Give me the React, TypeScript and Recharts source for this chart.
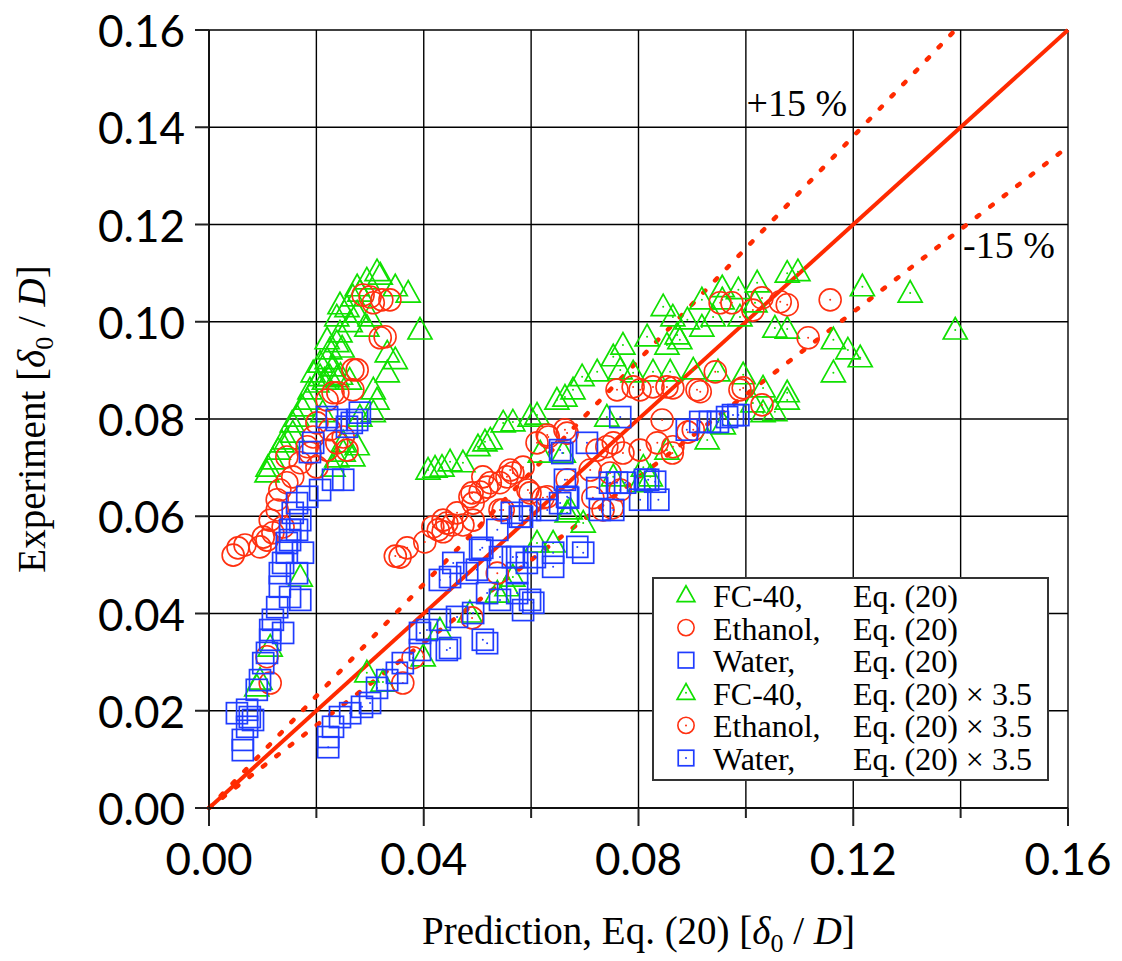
import React from "react";
import {
  ScatterChart,
  Scatter,
  XAxis,
  YAxis,
  CartesianGrid,
  ReferenceLine,
  ReferenceDot,
  Legend,
} from "recharts";

type Pt = [number, number];

// axis ticks (both axes run 0 .. 0.16)
const axisTicks = [0, 0.02, 0.04, 0.06, 0.08, 0.1, 0.12, 0.14, 0.16];

// Eq. (20) — left, steep cluster
const fc40Eq20: Pt[] = [
  [0.0313, 0.1103], [0.0319, 0.1096], [0.0294, 0.1086], [0.0276, 0.1072], [0.0281, 0.1061],
  [0.0268, 0.1051], [0.0244, 0.1035], [0.0257, 0.1029], [0.0347, 0.1072], [0.0371, 0.1059],
  [0.0276, 0.1018], [0.03, 0.101], [0.0238, 0.101], [0.0263, 0.0998], [0.0294, 0.0989],
  [0.0393, 0.0983], [0.0244, 0.0977], [0.022, 0.0963], [0.0238, 0.0957], [0.0248, 0.0946],
  [0.0225, 0.0942], [0.0332, 0.0936], [0.0347, 0.0922], [0.0332, 0.0895], [0.022, 0.0922],
  [0.0207, 0.0915], [0.0231, 0.0907], [0.0194, 0.0895], [0.0207, 0.0887], [0.0225, 0.0887],
  [0.0238, 0.0885], [0.0201, 0.0874], [0.0188, 0.086], [0.0306, 0.086], [0.0313, 0.0839],
  [0.0183, 0.0839], [0.0173, 0.0825], [0.0164, 0.0804], [0.0155, 0.0792], [0.0156, 0.0771],
  [0.0145, 0.0757], [0.0136, 0.0751], [0.0129, 0.0736], [0.0119, 0.0716], [0.011, 0.0701],
  [0.0108, 0.0689], [0.0238, 0.072], [0.025, 0.0732], [0.0306, 0.0813], [0.0212, 0.0813],
  [0.0281, 0.0804], [0.0215, 0.088], [0.0245, 0.089], [0.0262, 0.088], [0.0231, 0.0701],
  [0.025, 0.0751], [0.0276, 0.0745], [0.0268, 0.0722], [0.017, 0.0475], [0.0114, 0.0331],
  [0.0095, 0.0263], [0.0089, 0.0249],
];
const ethanolEq20: Pt[] = [
  [0.0287, 0.1055], [0.0306, 0.1039], [0.0337, 0.1045], [0.03, 0.1051], [0.0322, 0.1045],
  [0.0319, 0.0967], [0.0328, 0.0969], [0.0268, 0.0901], [0.0276, 0.0901], [0.0268, 0.086],
  [0.024, 0.0854], [0.0231, 0.0854], [0.022, 0.0839], [0.0201, 0.0792], [0.0225, 0.0778],
  [0.025, 0.0763], [0.0257, 0.0736], [0.0194, 0.0763], [0.0183, 0.0743], [0.0188, 0.073],
  [0.017, 0.071], [0.0156, 0.0681], [0.0145, 0.0669], [0.0132, 0.0654], [0.0127, 0.0634],
  [0.0238, 0.0751], [0.022, 0.0736], [0.0201, 0.0701], [0.0145, 0.0722], [0.0127, 0.0613],
  [0.0114, 0.0592], [0.0101, 0.0557], [0.0095, 0.0537], [0.0108, 0.0551], [0.0119, 0.0566],
  [0.0138, 0.0578], [0.0045, 0.052], [0.0054, 0.0535], [0.0067, 0.0541], [0.0114, 0.0257],
  [0.0108, 0.0311],
];
const waterEq20: Pt[] = [
  [0.022, 0.0804], [0.0238, 0.0798], [0.0266, 0.0792], [0.0281, 0.0813], [0.0276, 0.0798],
  [0.0257, 0.0784], [0.0194, 0.0751], [0.0188, 0.0732], [0.0231, 0.0675], [0.025, 0.0675],
  [0.0207, 0.0654], [0.0183, 0.064], [0.0164, 0.0627], [0.0156, 0.0607], [0.017, 0.0592],
  [0.0151, 0.0572], [0.0145, 0.0545], [0.0164, 0.0572], [0.0151, 0.0551], [0.0145, 0.0525],
  [0.0175, 0.0525], [0.0138, 0.0504], [0.0132, 0.0483], [0.0164, 0.0483], [0.0132, 0.0455],
  [0.0151, 0.0434], [0.017, 0.0428], [0.0127, 0.0413], [0.0119, 0.0387], [0.0114, 0.0366],
  [0.0138, 0.036], [0.0114, 0.0346], [0.0108, 0.0319], [0.0101, 0.0298], [0.0095, 0.0263],
  [0.0089, 0.0243], [0.0071, 0.0202], [0.0076, 0.0187], [0.0071, 0.0167], [0.0063, 0.014],
  [0.0063, 0.0119], [0.0082, 0.0181], [0.0052, 0.0195],
];

// Eq. (20) x 3.5 — right cluster
const fc40Scaled: Pt[] = [
  [0.0408, 0.0695], [0.0421, 0.0699], [0.0434, 0.0701], [0.0449, 0.0712], [0.0473, 0.071],
  [0.0501, 0.0743], [0.0514, 0.0753], [0.0524, 0.0757], [0.0548, 0.0792], [0.0566, 0.0794],
  [0.0598, 0.0804], [0.0611, 0.0808], [0.0648, 0.0839], [0.0663, 0.0845], [0.0678, 0.086],
  [0.0695, 0.0887], [0.0723, 0.0897], [0.0753, 0.0928], [0.0771, 0.0952], [0.0766, 0.0901],
  [0.079, 0.0895], [0.0816, 0.0969], [0.0846, 0.1031], [0.0864, 0.101], [0.0872, 0.0973],
  [0.0853, 0.0952], [0.0827, 0.0897], [0.0859, 0.0897], [0.0902, 0.0901], [0.0741, 0.0804],
  [0.0617, 0.073], [0.066, 0.073], [0.0853, 0.0736], [0.0809, 0.0701], [0.0673, 0.0613],
  [0.0697, 0.0586], [0.1077, 0.11], [0.1097, 0.1103], [0.1021, 0.108], [0.0986, 0.1066],
  [0.0956, 0.107], [0.0918, 0.1045], [0.0956, 0.1045], [0.1017, 0.1039], [0.0989, 0.101],
  [0.0939, 0.101], [0.0891, 0.1004], [0.0918, 0.0989], [0.1217, 0.1072], [0.1306, 0.1059],
  [0.139, 0.0983], [0.1054, 0.0987], [0.1077, 0.0985], [0.1163, 0.0963], [0.119, 0.0942],
  [0.1213, 0.0926], [0.1163, 0.0895], [0.0948, 0.0897], [0.0995, 0.0891], [0.1032, 0.0864],
  [0.1077, 0.0854], [0.1077, 0.0839], [0.1054, 0.0815], [0.1013, 0.0833], [0.1032, 0.0813],
  [0.0958, 0.0788], [0.0928, 0.0757], [0.0877, 0.0963], [0.0294, 0.0278], [0.0324, 0.0259],
  [0.0399, 0.0311], [0.0537, 0.0442], [0.0555, 0.0455], [0.0566, 0.0475], [0.0611, 0.0545],
  [0.0641, 0.0545], [0.0486, 0.0401], [0.043, 0.0366], [0.0667, 0.0607], [0.0753, 0.0681],
  [0.0803, 0.0669], [0.0822, 0.0681],
];
const ethanolScaled: Pt[] = [
  [0.0347, 0.0518], [0.0356, 0.0516], [0.0369, 0.0535], [0.0402, 0.0547], [0.0427, 0.0572],
  [0.0436, 0.0568], [0.0453, 0.0582], [0.0473, 0.0582], [0.0492, 0.0592], [0.0486, 0.064],
  [0.0505, 0.065], [0.0518, 0.066], [0.0542, 0.0669], [0.0555, 0.0681], [0.0566, 0.0689],
  [0.0594, 0.0654], [0.0622, 0.0638], [0.0537, 0.0483], [0.0361, 0.0257], [0.038, 0.0309],
  [0.049, 0.0391], [0.0417, 0.0578], [0.0436, 0.0592], [0.0462, 0.0607], [0.049, 0.0648],
  [0.0524, 0.0669], [0.0561, 0.0695], [0.0585, 0.0701], [0.0611, 0.0751], [0.063, 0.0767],
  [0.0667, 0.0771], [0.0723, 0.0736], [0.0753, 0.0751], [0.0771, 0.073], [0.076, 0.086],
  [0.079, 0.0866], [0.0827, 0.0866], [0.0853, 0.0866], [0.0909, 0.086], [0.0835, 0.0751],
  [0.0864, 0.0743], [0.0902, 0.0778], [0.0734, 0.0613], [0.0667, 0.0675], [0.0598, 0.0648],
  [0.0542, 0.0613], [0.0492, 0.0627], [0.051, 0.0681], [0.1157, 0.1045], [0.1077, 0.1035],
  [0.1064, 0.1041], [0.103, 0.1049], [0.1013, 0.1024], [0.0974, 0.1039], [0.0952, 0.1039],
  [0.1116, 0.0967], [0.0943, 0.0897], [0.0915, 0.0856], [0.0989, 0.086], [0.103, 0.0829],
  [0.0892, 0.0773], [0.0995, 0.0864], [0.0864, 0.0864], [0.0803, 0.086], [0.0844, 0.0798],
  [0.0863, 0.073], [0.0803, 0.0736], [0.0741, 0.0743], [0.071, 0.0695], [0.0747, 0.0689],
  [0.0766, 0.0654], [0.0751, 0.0617], [0.0715, 0.0638], [0.0663, 0.0778], [0.0632, 0.0763],
  [0.063, 0.064], [0.0443, 0.0586], [0.0548, 0.0613],
];
const waterScaled: Pt[] = [
  [0.0222, 0.0125], [0.0222, 0.0146], [0.0231, 0.0167], [0.0244, 0.0187], [0.0263, 0.0195],
  [0.0285, 0.0208], [0.03, 0.0216], [0.0313, 0.0247], [0.0332, 0.0263], [0.035, 0.0278],
  [0.0361, 0.0298], [0.0393, 0.036], [0.0406, 0.0366], [0.043, 0.0387], [0.0462, 0.0393],
  [0.0492, 0.0401], [0.051, 0.0346], [0.0518, 0.0339], [0.0443, 0.0325], [0.0393, 0.0325],
  [0.043, 0.0469], [0.0455, 0.0504], [0.0449, 0.0475], [0.0481, 0.0483], [0.0499, 0.049],
  [0.0518, 0.0442], [0.0542, 0.0516], [0.0566, 0.0516], [0.0592, 0.0504], [0.0604, 0.0422],
  [0.0574, 0.0442], [0.0542, 0.0428], [0.0505, 0.0531], [0.0537, 0.0572], [0.0579, 0.0599],
  [0.0598, 0.0613], [0.063, 0.0613], [0.0654, 0.0627], [0.0654, 0.0736], [0.0704, 0.0751],
  [0.0663, 0.0675], [0.0667, 0.064], [0.0723, 0.0658], [0.0747, 0.0669], [0.076, 0.0669],
  [0.0775, 0.0669], [0.0818, 0.0675], [0.0837, 0.0634], [0.0803, 0.0634], [0.0728, 0.0613],
  [0.0753, 0.0613], [0.0564, 0.0607], [0.0583, 0.0599], [0.0509, 0.0535], [0.0574, 0.0516],
  [0.0607, 0.0516], [0.0641, 0.0525], [0.0686, 0.0537], [0.0697, 0.0525], [0.0641, 0.0496],
  [0.0574, 0.0483], [0.0598, 0.0428], [0.0585, 0.0407], [0.0449, 0.0329], [0.0766, 0.0804],
  [0.089, 0.0778], [0.0915, 0.0794], [0.0933, 0.0794], [0.0948, 0.0794], [0.0965, 0.0804],
  [0.0976, 0.0808], [0.0986, 0.0808], [0.0658, 0.073], [0.0669, 0.0638], [0.0812, 0.0675],
  [0.0831, 0.0671],
];

// parity line and +/-15 % bands (end points)
const parityLine: Pt[] = [[0, 0], [0.16, 0.16]];
const plus15Line: Pt[] = [[0, 0], [0.139, 0.16]];
const minus15Line: Pt[] = [[0, 0], [0.16, 0.136]];

const legendLabels = [
  ["FC-40,", "Eq. (20)"],
  ["Ethanol,", "Eq. (20)"],
  ["Water,", "Eq. (20)"],
  ["FC-40,", "Eq. (20) × 3.5"],
  ["Ethanol,", "Eq. (20) × 3.5"],
  ["Water,", "Eq. (20) × 3.5"],
];

const GREEN = "#10e000";
const RED = "#ff3010";
const BLUE = "#1f3cff";
const LINE_RED = "#ff2a00";
const SERIF = "'Liberation Serif', 'Times New Roman', serif";
const SANS = "Lato, 'DejaVu Sans', sans-serif";

const toPoints = (arr: Pt[]) => arr.map(([x, y]) => ({ x, y }));
const seg = (arr: Pt[]) => arr.map(([x, y]) => ({ x, y }));

function Marker({ kind, color, dot, cx, cy, s = 1 }: any) {
  let body;
  if (kind === "tri") {
    body = (
      <polygon
        points={`${cx},${cy - 12.5 * s} ${cx - 12 * s},${cy + 9 * s} ${cx + 12 * s},${cy + 9 * s}`}
        fill="none"
        stroke={color}
        strokeWidth={1.7}
      />
    );
  } else if (kind === "circ") {
    body = <circle cx={cx} cy={cy} r={11 * s} fill="none" stroke={color} strokeWidth={1.6} />;
  } else {
    body = (
      <rect x={cx - 10.5 * s} y={cy - 10.5 * s} width={21 * s} height={21 * s} fill="none" stroke={color} strokeWidth={1.7} />
    );
  }
  return (
    <g>
      {body}
      {dot && <circle cx={cx} cy={cy} r={1} fill={color} />}
    </g>
  );
}

const shape = (kind: string, color: string, dot: boolean) => (props: any) =>
  <Marker kind={kind} color={color} dot={dot} cx={props.cx} cy={props.cy} />;

const XTick = ({ x, y, payload }: any) => {
  const v = payload.value;
  const major = Math.round(v * 100) % 4 === 0;
  return (
    <g>
      <line x1={x} x2={x} y1={y} y2={y + (major ? 18 : 10)} stroke="#222" strokeWidth={2} />
      {major && (
        <text x={x} y={y + 50} textAnchor="middle" dominantBaseline="central" fontFamily={SANS} fontSize={44} fill="#000">
          {v.toFixed(2)}
        </text>
      )}
    </g>
  );
};

const YTick = ({ x, y, payload }: any) => (
  <g>
    <line x1={x - 14} x2={x} y1={y} y2={y} stroke="#222" strokeWidth={2} />
    <text x={x - 24} y={y} textAnchor="end" dominantBaseline="central" fontFamily={SANS} fontSize={44} fill="#000">
      {payload.value.toFixed(2)}
    </text>
  </g>
);

const legendKinds = [
  ["tri", GREEN, false],
  ["circ", RED, false],
  ["rect", BLUE, false],
  ["tri", GREEN, true],
  ["circ", RED, true],
  ["rect", BLUE, true],
] as const;

const LegendBox = () => (
  <div style={{ width: 397, height: 204, border: "2px solid #333", background: "#fff", boxSizing: "border-box" }}>
    <svg width={393} height={200} style={{ overflow: "visible", display: "block" }}>
      {legendLabels.map(([name, eq], i) => {
        const base = 28 + i * 32.6;
        const [kind, color, dot] = legendKinds[i];
        return (
          <g key={i}>
            <Marker kind={kind} color={color} dot={dot} cx={32} cy={base - 12} s={0.74} />
            <text x={59} y={base} fontFamily={SERIF} fontSize={32} fill="#000">{name}</text>
            <text x={199} y={base} fontFamily={SERIF} fontSize={32} fill="#000">{eq}</text>
          </g>
        );
      })}
    </svg>
  </div>
);

export default function App() {
  const dotted = { stroke: LINE_RED, strokeWidth: 4.5, strokeDasharray: "3 14", strokeLinecap: "round" as const };
  return (
    <div style={{ marginTop: -8 }}>
      <ScatterChart width={1106} height={961} margin={{ top: 30, right: 46, left: 0, bottom: 8 }}>
        <CartesianGrid stroke="#000" strokeWidth={1.4} />
        <XAxis
          type="number"
          dataKey="x"
          domain={[0, 0.16]}
          ticks={axisTicks}
          interval={0}
          tickSize={0}
          tickMargin={0}
          height={145}
          tick={<XTick />}
          axisLine={{ stroke: "#000", strokeWidth: 1.5 }}
          label={{
            content: ({ viewBox }: any) => (
              <text x={viewBox.x + viewBox.width / 2} y={viewBox.y + 136} textAnchor="middle" fontFamily={SERIF} fontSize={39} fill="#000">
                Prediction, Eq. (20) [<tspan fontStyle="italic">δ</tspan>
                <tspan fontSize={26} dy={8}>0</tspan>
                <tspan dy={-8}> / </tspan>
                <tspan fontStyle="italic">D</tspan>]
              </text>
            ),
          }}
        />
        <YAxis
          type="number"
          dataKey="y"
          domain={[0, 0.16]}
          ticks={axisTicks}
          interval={0}
          tickSize={0}
          tickMargin={0}
          width={201}
          tick={<YTick />}
          axisLine={{ stroke: "#000", strokeWidth: 1.5 }}
          label={{
            content: ({ viewBox }: any) => (
              <text
                transform={`translate(${viewBox.x + 37}, ${viewBox.y + viewBox.height / 2}) rotate(-90)`}
                textAnchor="middle"
                fontFamily={SERIF}
                fontSize={39}
                fill="#000"
              >
                Experiment [<tspan fontStyle="italic">δ</tspan>
                <tspan fontSize={26} dy={8}>0</tspan>
                <tspan dy={-8}> / </tspan>
                <tspan fontStyle="italic">D</tspan>]
              </text>
            ),
          }}
        />
        <Scatter data={toPoints(fc40Eq20)} shape={shape("tri", GREEN, false)} isAnimationActive={false} />
        <Scatter data={toPoints(ethanolEq20)} shape={shape("circ", RED, false)} isAnimationActive={false} />
        <Scatter data={toPoints(waterEq20)} shape={shape("rect", BLUE, false)} isAnimationActive={false} />
        <Scatter data={toPoints(fc40Scaled)} shape={shape("tri", GREEN, true)} isAnimationActive={false} />
        <Scatter data={toPoints(ethanolScaled)} shape={shape("circ", RED, true)} isAnimationActive={false} />
        <Scatter data={toPoints(waterScaled)} shape={shape("rect", BLUE, true)} isAnimationActive={false} />
        <ReferenceLine segment={seg(plus15Line)} {...dotted} />
        <ReferenceLine segment={seg(minus15Line)} {...dotted} />
        <ReferenceLine segment={seg(parityLine)} stroke={LINE_RED} strokeWidth={4} />
        <ReferenceDot
          x={0.1095}
          y={0.145}
          r={0}
          label={{ value: "+15 %", position: "center", fontFamily: SERIF, fontSize: 38, fill: "#000" }}
        />
        <ReferenceDot
          x={0.149}
          y={0.1158}
          r={0}
          label={{ value: "-15 %", position: "center", fontFamily: SERIF, fontSize: 38, fill: "#000" }}
        />
        <Legend
          layout="horizontal"
          align="center"
          verticalAlign="middle"
          content={() => <LegendBox />}
          wrapperStyle={{ left: 644, top: 577, width: 397, height: 204 }}
        />
      </ScatterChart>
    </div>
  );
}
